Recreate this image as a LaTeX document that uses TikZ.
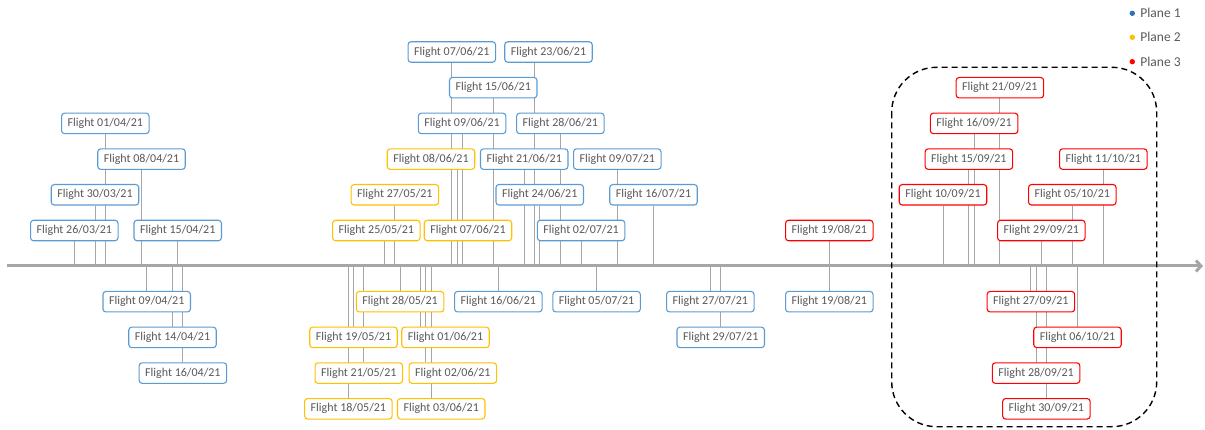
\documentclass[tikz,border=0pt]{standalone}
\usepackage{fontspec}
\setmainfont{Carlito}
\usetikzlibrary{arrows.meta,backgrounds}
\definecolor{planeblue}{HTML}{5B9BD5}
\definecolor{planeyellow}{HTML}{FFC000}
\definecolor{planered}{HTML}{FF0000}
\definecolor{dotblue}{HTML}{2E75B6}
\definecolor{textgray}{HTML}{595959}
\definecolor{linegray}{HTML}{A6A6A6}

\begin{document}
\begin{tikzpicture}[x=1pt, y=-1pt,
		flight/.style={draw, fill=white, rounded corners=3pt, line width=1.1pt, minimum width=87.5pt, minimum height=20.5pt, inner sep=0pt, text=textgray, font=\fontsize{12}{14}\selectfont},
		one/.style={flight, draw=planeblue},
		two/.style={flight, draw=planeyellow},
		three/.style={flight, draw=planered},
		tick/.style={line width=0.9pt, draw=linegray},
		dot/.style={circle, inner sep=0pt, minimum size=5.4pt},
		legend/.style={inner sep=0pt, anchor=west, text=textgray, font=\fontsize{13.5}{15}\selectfont}]
		%%%%% START %%%%%
		\useasboundingbox (0,0) rectangle (1205,430);
		
		% plane 1
		\node[one] (one2603) at (74.3, 230.5) {Flight 26/03/21};
		\node[one] (one3003) at (95.0, 194.8) {Flight 30/03/21};
		\node[one] (one0104) at (105.3, 123.4) {Flight 01/04/21};
		\node[one] (one0804) at (141.5, 159.1) {Flight 08/04/21};
		\node[one] (one1504) at (177.7, 230.5) {Flight 15/04/21};
		\node[one] (one0904) at (146.7, 301.7) {Flight 09/04/21};
		\node[one] (one1404) at (172.5, 337.4) {Flight 14/04/21};
		\node[one] (one1604) at (182.9, 373.1) {Flight 16/04/21};
		
		\node[one] (one0706) at (451.8, 52.0) {Flight 07/06/21};
		\node[one] (one1506) at (493.2, 87.7) {Flight 15/06/21};
		\node[one] (one0906) at (462.1, 123.4) {Flight 09/06/21};
		\node[one] (one2106) at (524.2, 159.1) {Flight 21/06/21};
		\node[one] (one2306) at (548.5, 52.0) {Flight 23/06/21};
		\node[one] (one2406) at (539.7, 194.8) {Flight 24/06/21};
		\node[one] (one2806) at (560.4, 123.4) {Flight 28/06/21};
		\node[one] (one0207) at (581.1, 230.5) {Flight 02/07/21};
		\node[one] (one0907) at (617.3, 159.1) {Flight 09/07/21};
		\node[one] (one1607) at (653.5, 194.8) {Flight 16/07/21};
		\node[one] (one1606) at (498.3, 301.7) {Flight 16/06/21};
		\node[one] (one0507) at (596.6, 301.7) {Flight 05/07/21};
		\node[one] (one2707) at (710.3, 301.7) {Flight 27/07/21};
		\node[one] (one2907) at (720.7, 337.4) {Flight 29/07/21};
		\node[one] (one1908) at (829.3, 301.7) {Flight 19/08/21};
		
		% plane 2
		\node[two] (two2505) at (376.3, 230.5) {Flight 25/05/21};
		\node[two] (two2705) at (394.9, 194.8) {Flight 27/05/21};
		\node[two] (two0806) at (431.0, 159.1) {Flight 08/06/21};
		\node[two] (two0706) at (468.0, 230.5) {Flight 07/06/21};
		\node[two] (two2805) at (400.1, 301.7) {Flight 28/05/21};
		\node[two] (two1905) at (353.5, 337.4) {Flight 19/05/21};
		\node[two] (two0106) at (445.5, 337.4) {Flight 01/06/21};
		\node[two] (two2105) at (358.8, 373.1) {Flight 21/05/21};
		\node[two] (two0206) at (452.8, 373.1) {Flight 02/06/21};
		\node[two] (two1805) at (348.4, 408.8) {Flight 18/05/21};
		\node[two] (two0306) at (441.2, 408.8) {Flight 03/06/21};
		
		% plane 3
		\node[three] (three1908) at (829.3, 230.5) {Flight 19/08/21};
		\node[three] (three2109) at (999.9, 87.7) {Flight 21/09/21};
		\node[three] (three1609) at (974.1, 123.4) {Flight 16/09/21};
		\node[three] (three1509) at (968.9, 159.1) {Flight 15/09/21};
		\node[three] (three1110) at (1103.3, 159.1) {Flight 11/10/21};
		\node[three] (three1009) at (943.0, 194.8) {Flight 10/09/21};
		\node[three] (three0510) at (1072.3, 194.8) {Flight 05/10/21};
		\node[three] (three2909) at (1041.3, 230.5) {Flight 29/09/21};
		\node[three] (three2709) at (1030.9, 301.7) {Flight 27/09/21};
		\node[three] (three0610) at (1077.5, 337.4) {Flight 06/10/21};
		\node[three] (three2809) at (1036.1, 373.1) {Flight 28/09/21};
		\node[three] (three3009) at (1046.4, 408.8) {Flight 30/09/21};
		
		% dates on the axis
		\coordinate (t2603) at (74.3, 266);
		\coordinate (t3003) at (95.0, 266);
		\coordinate (t0104) at (105.3, 266);
		\coordinate (t0804) at (141.5, 266);
		\coordinate (t0904) at (146.7, 266);
		\coordinate (t1404) at (172.5, 266);
		\coordinate (t1504) at (177.7, 266);
		\coordinate (t1604) at (182.9, 266);
		\coordinate (t1805) at (348.4, 266);
		\coordinate (t1905) at (353.5, 266);
		\coordinate (t2105) at (363.9, 266);
		\coordinate (t2505) at (384.6, 266);
		\coordinate (t2705) at (394.9, 266);
		\coordinate (t2805) at (400.1, 266);
		\coordinate (t0106) at (420.8, 266);
		\coordinate (t0206) at (425.9, 266);
		\coordinate (t0306) at (431.1, 266);
		\coordinate (t0706) at (451.8, 266);
		\coordinate (t0806) at (457.0, 266);
		\coordinate (t0906) at (462.1, 266);
		\coordinate (t1506) at (493.2, 266);
		\coordinate (t1606) at (498.3, 266);
		\coordinate (t2106) at (524.2, 266);
		\coordinate (t2306) at (534.5, 266);
		\coordinate (t2406) at (539.7, 266);
		\coordinate (t2806) at (560.4, 266);
		\coordinate (t0207) at (581.1, 266);
		\coordinate (t0507) at (596.6, 266);
		\coordinate (t0907) at (617.3, 266);
		\coordinate (t1607) at (653.5, 266);
		\coordinate (t2707) at (710.3, 266);
		\coordinate (t2907) at (720.7, 266);
		\coordinate (t1908) at (829.3, 266);
		\coordinate (t1009) at (943.0, 266);
		\coordinate (t1509) at (968.9, 266);
		\coordinate (t1609) at (974.1, 266);
		\coordinate (t2109) at (999.9, 266);
		\coordinate (t2709) at (1030.9, 266);
		\coordinate (t2809) at (1036.1, 266);
		\coordinate (t2909) at (1041.3, 266);
		\coordinate (t3009) at (1046.4, 266);
		\coordinate (t0510) at (1072.3, 266);
		\coordinate (t0610) at (1077.5, 266);
		\coordinate (t1110) at (1103.3, 266);
		
		\begin{scope}[on background layer]
			\draw[tick] (t2603) -- (t2603 |- one2603.south);
			\draw[tick] (t3003) -- (t3003 |- one3003.south);
			\draw[tick] (t0104) -- (t0104 |- one0104.south);
			\draw[tick] (t0804) -- (t0804 |- one0804.south);
			\draw[tick] (t1504) -- (t1504 |- one1504.south);
			\draw[tick] (t0904) -- (t0904 |- one0904.north);
			\draw[tick] (t1404) -- (t1404 |- one1404.north);
			\draw[tick] (t1604) -- (t1604 |- one1604.north);
			\draw[tick] (t0706) -- (t0706 |- one0706.south);
			\draw[tick] (t1506) -- (t1506 |- one1506.south);
			\draw[tick] (t0906) -- (t0906 |- one0906.south);
			\draw[tick] (t2106) -- (t2106 |- one2106.south);
			\draw[tick] (t2306) -- (t2306 |- one2306.south);
			\draw[tick] (t2406) -- (t2406 |- one2406.south);
			\draw[tick] (t2806) -- (t2806 |- one2806.south);
			\draw[tick] (t0207) -- (t0207 |- one0207.south);
			\draw[tick] (t0907) -- (t0907 |- one0907.south);
			\draw[tick] (t1607) -- (t1607 |- one1607.south);
			\draw[tick] (t1606) -- (t1606 |- one1606.north);
			\draw[tick] (t0507) -- (t0507 |- one0507.north);
			\draw[tick] (t2707) -- (t2707 |- one2707.north);
			\draw[tick] (t2907) -- (t2907 |- one2907.north);
			\draw[tick] (t1908) -- (t1908 |- one1908.north);
			
			\draw[tick] (t2505) -- (t2505 |- two2505.south);
			\draw[tick] (t2705) -- (t2705 |- two2705.south);
			\draw[tick] (t0806) -- (t0806 |- two0806.south);
			\draw[tick] (t0706) -- (t0706 |- two0706.south);
			\draw[tick] (t2805) -- (t2805 |- two2805.north);
			\draw[tick] (t1905) -- (t1905 |- two1905.north);
			\draw[tick] (t0106) -- (t0106 |- two0106.north);
			\draw[tick] (t2105) -- (t2105 |- two2105.north);
			\draw[tick] (t0206) -- (t0206 |- two0206.north);
			\draw[tick] (t1805) -- (t1805 |- two1805.north);
			\draw[tick] (t0306) -- (t0306 |- two0306.north);
			
			\draw[tick] (t1908) -- (t1908 |- three1908.south);
			\draw[tick] (t2109) -- (t2109 |- three2109.south);
			\draw[tick] (t1609) -- (t1609 |- three1609.south);
			\draw[tick] (t1509) -- (t1509 |- three1509.south);
			\draw[tick] (t1110) -- (t1110 |- three1110.south);
			\draw[tick] (t1009) -- (t1009 |- three1009.south);
			\draw[tick] (t0510) -- (t0510 |- three0510.south);
			\draw[tick] (t2909) -- (t2909 |- three2909.south);
			\draw[tick] (t2709) -- (t2709 |- three2709.north);
			\draw[tick] (t0610) -- (t0610 |- three0610.north);
			\draw[tick] (t2809) -- (t2809 |- three2809.north);
			\draw[tick] (t3009) -- (t3009 |- three3009.north);
		\end{scope}
		
		% time axis
		\coordinate (axstart) at (7, 266);
		\coordinate (axend) at (1203, 266);
		\draw[line width=3pt, draw=linegray, -{Straight Barb[length=5pt, width=11pt]}] (axstart) -- (axend);
		
		% selection
		\draw[line width=1.4pt, dash pattern=on 6pt off 4pt, rounded corners=45pt] (891.7, 67.3) rectangle (1156.7, 426.7);
		
		% legend
		\node[dot, fill=dotblue] (dotone) at (1132.3, 13.3) {};
		\node[dot, fill=planeyellow] (dottwo) at (1132.3, 37.3) {};
		\node[dot, fill=planered] (dotthree) at (1132.3, 61.7) {};
		\node[legend] (legone) at (1140.2, 13.3) {Plane 1};
		\node[legend] (legtwo) at (1140.2, 37.3) {Plane 2};
		\node[legend] (legthree) at (1140.2, 61.7) {Plane 3};
		
		%%%%% END %%%%%
\end{tikzpicture}
\end{document}
